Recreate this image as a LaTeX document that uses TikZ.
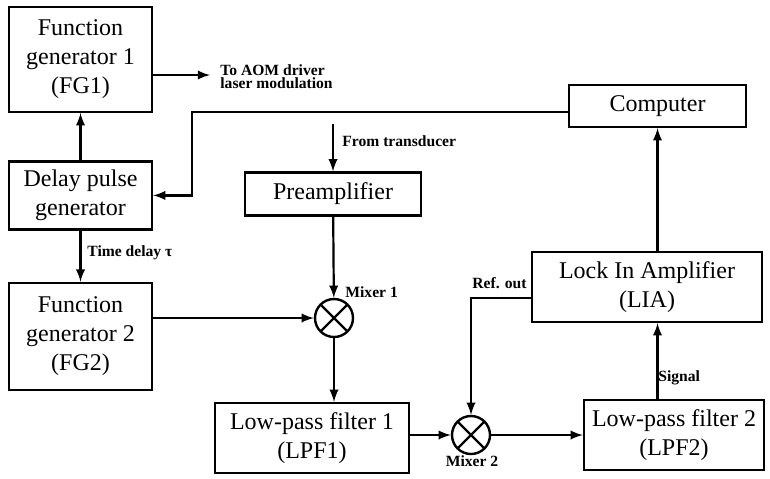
\documentclass[tikz,border=0pt]{standalone}
\usepackage{fontspec}
\setmainfont{Liberation Serif}
\usepackage{tikz}
\tikzset{>=latex}
\usetikzlibrary{positioning,calc}
\tikzset{
	block/.style={draw,line width=1.2pt,rectangle,align=center,inner sep=1pt,font=\fontsize{12}{14.5}\selectfont},
	mixer/.style={draw,line width=1.2pt,circle,inner sep=0pt,minimum size=19pt,
		path picture={\draw[line width=1.2pt] (path picture bounding box.north west) -- (path picture bounding box.south east)
			(path picture bounding box.north east) -- (path picture bounding box.south west);}},
	tag/.style={font=\bfseries\fontsize{7.8}{6.5}\selectfont,align=left,inner sep=1pt},
	line/.style={draw,line width=1.1pt,->},
}

\begin{document}
\begin{tikzpicture}[x=0.5pt,y=-0.5pt]
	\useasboundingbox (0,0) rectangle (770,478);

	% Left column
	\node[block,minimum width=71.5pt,minimum height=52.5pt] (fg1) at (80.5,59.5) {Function\\generator 1\\(FG1)};
	\node[block,minimum width=71.5pt,minimum height=34pt,below=23.5pt of fg1] (dpg) {Delay pulse\\generator};
	\node[block,minimum width=71.5pt,minimum height=53.5pt,below=25.5pt of dpg] (fg2) {Function\\generator 2\\(FG2)};

	% Middle
	\node[block,minimum width=88pt,minimum height=21.5pt] (pre) at (333,194) {Preamplifier};
	\node[mixer] (m1) at (334,318) {};
	\node[block,minimum width=97pt,minimum height=35pt] (lpf1) at (312,438) {Low-pass filter 1\\(LPF1)};
	\node[mixer] (m2) at (471,435) {};

	% Right column
	\node[block,minimum width=88.5pt,minimum height=21pt] (cmp) at (657.5,106) {Computer};
	\node[block,minimum width=115pt,minimum height=35pt] (lia) at (647,287) {Lock In Amplifier\\(LIA)};
	\node[block,minimum width=90pt,minimum height=35pt] (lpf2) at (674,435) {Low-pass filter 2\\(LPF2)};

	% Free ends
	\coordinate (aom) at (210,75);
	\coordinate (cl) at (192,112);
	\coordinate[above=23.5pt of pre.north] (trd);
	\coordinate (ref) at (471,298);

	% Labels
	\node[tag,anchor=west] (aomtxt) at (218,77) {To AOM driver\\laser modulation};
	\node[tag,anchor=west] (trdtxt) at (340,141) {From transducer};
	\node[tag,anchor=west] (tdtxt) at (85,253) {Time delay τ};
	\node[tag,anchor=west] (m1txt) at (343,292) {Mixer 1};
	\node[tag,anchor=west] (reftxt) at (470,283) {Ref. out};
	\node[tag,anchor=west] (sigtxt) at (656,378) {Signal};
	\node[tag] (m2txt) at (472,461) {Mixer 2};

	% Draw connections
	\draw[line] (fg1.east |- aom) -- (aom);
	\draw[line] (dpg) -- (fg1);
	\draw[line] (cmp.west |- cl) -- (cl) |- (dpg.east);
	\draw[line] (dpg) -- (fg2);
	\draw[line] (trd) -- (pre);
	\draw[line] (pre) -- (m1);
	\draw[line] (fg2.east |- m1) -- (m1);
	\draw[line] (m1) -- (m1 |- lpf1.north);
	\draw[line] (lpf1.east |- m2) -- (m2);
	\draw[line] (m2) -- (lpf2.west |- m2);
	\draw[line] (lia.west |- ref) -- (ref) -- (m2);
	\draw[line] (lpf2.north -| cmp) -- (lia.south -| cmp);
	\draw[line] (lia.north -| cmp) -- (cmp);
\end{tikzpicture}
\end{document}
